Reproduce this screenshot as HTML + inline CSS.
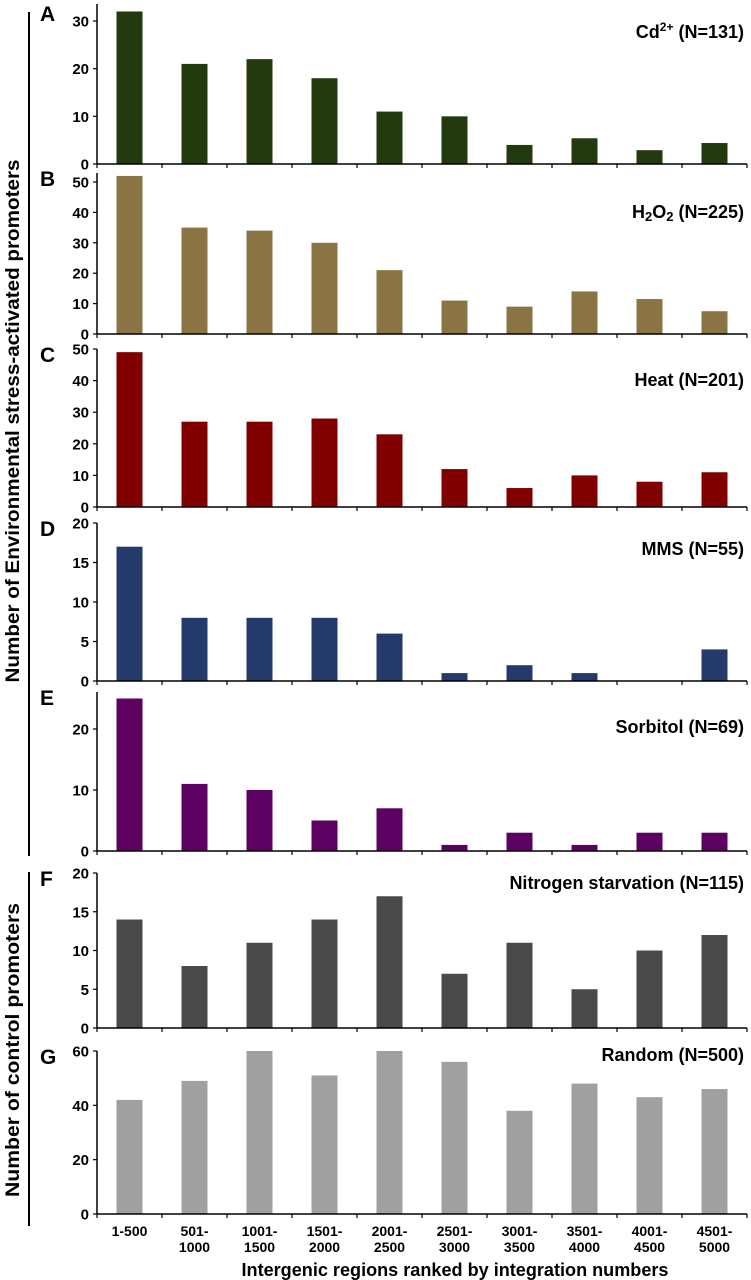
<!DOCTYPE html>
<html><head><meta charset="utf-8"><style>
html,body{margin:0;padding:0;background:#fff}
svg{display:block;font-family:"Liberation Sans",Arial,sans-serif;font-weight:bold}
</style></head><body>
<svg id="chart" width="751" height="1280" viewBox="0 0 751 1280" xmlns="http://www.w3.org/2000/svg">
<line x1="29" y1="12" x2="29" y2="856" stroke="#000" stroke-width="2"/>
<line x1="29" y1="872" x2="29" y2="1226" stroke="#000" stroke-width="2"/>
<text transform="translate(19,421) rotate(-90)" text-anchor="middle" font-size="19" textLength="523" lengthAdjust="spacingAndGlyphs">Number of Environmental stress-activated promoters</text>
<text transform="translate(19,1050) rotate(-90)" text-anchor="middle" font-size="19" textLength="294" lengthAdjust="spacingAndGlyphs">Number of control promoters</text>
<text x="455" y="1276" text-anchor="middle" font-size="18" textLength="427" lengthAdjust="spacingAndGlyphs">Intergenic regions ranked by integration numbers</text>
<g id="panels"></g>
<g id="xlabels"></g>
</svg>
<script>
const categories = ["1-500","501-1000","1001-1500","1501-2000","2001-2500","2501-3000","3001-3500","3501-4000","4001-4500","4501-5000"];
const catLine1 = ["1-500","501-","1001-","1501-","2001-","2501-","3001-","3501-","4001-","4501-"];
const catLine2 = ["","1000","1500","2000","2500","3000","3500","4000","4500","5000"];
const cdValues = [32,21,22,18,11,10,4,5.4,2.9,4.4];
const h2o2Values = [52,35,34,30,21,11,9,14,11.5,7.5];
const heatValues = [49,27,27,28,23,12,6,10,8,11];
const mmsValues = [17,8,8,8,6,1,2,1,0,4];
const sorbitolValues = [25,11,10,5,7,1,3,1,3,3];
const nitrogenValues = [14,8,11,14,17,7,11,5,10,12];
const randomValues = [42,49,60,51,60,56,38,48,43,46];
const cdTicks = [0,10,20,30];
const h2o2Ticks = [0,10,20,30,40,50];
const heatTicks = [0,10,20,30,40,50];
const mmsTicks = [0,5,10,15,20];
const sorbitolTicks = [0,10,20];
const nitrogenTicks = [0,5,10,15,20];
const randomTicks = [0,20,40,60];

const NS = "http://www.w3.org/2000/svg";
const X0 = 97, X1 = 747, BW = 26;
const step = (X1 - X0) / categories.length;
function xCenter(i){ return X0 + step * (i + 0.5); }

const panels = [
 {id:"a", letter:"A", title:"Cd<tspan dy='-7' font-size='12'>2+</tspan><tspan dy='7'> (N=131)</tspan>", vals:cdValues, ticks:cdTicks, y0:164, refV:30, refY:21, top:4, color:"#233a0f", ty:38},
 {id:"b", letter:"B", title:"H<tspan font-size='13' dy='3'>2</tspan><tspan dy='-3'>O</tspan><tspan font-size='13' dy='3'>2</tspan><tspan dy='-3'> (N=225)</tspan>", vals:h2o2Values, ticks:h2o2Ticks, y0:334, refV:50, refY:182, top:173, color:"#8b7443", ty:218},
 {id:"c", letter:"C", title:"Heat (N=201)", vals:heatValues, ticks:heatTicks, y0:507, refV:50, refY:349, top:349, color:"#800000", ty:386},
 {id:"d", letter:"D", title:"MMS (N=55)", vals:mmsValues, ticks:mmsTicks, y0:681, refV:20, refY:523, top:523, color:"#233a6b", ty:555},
 {id:"e", letter:"E", title:"Sorbitol (N=69)", vals:sorbitolValues, ticks:sorbitolTicks, y0:851, refV:20, refY:729, top:692, color:"#5c0062", ty:733},
 {id:"f", letter:"F", title:"Nitrogen starvation (N=115)", vals:nitrogenValues, ticks:nitrogenTicks, y0:1028, refV:20, refY:873, top:873, color:"#4a4a4a", ty:889},
 {id:"g", letter:"G", title:"Random (N=500)", vals:randomValues, ticks:randomTicks, y0:1214, refV:60, refY:1051, top:1051, color:"#a0a0a0", ty:1061}
];
const root = document.getElementById("panels");
function mk(tag, attrs, parent){ const e = document.createElementNS(NS, tag); for (const k in attrs) e.setAttribute(k, attrs[k]); parent.appendChild(e); return e; }

panels.forEach(p => {
  const g = mk("g", {}, root);
  
  
  const scale = (p.y0 - p.refY) / p.refV;
  const yOf = v => p.y0 - v * scale;
  p.vals.forEach((v, i) => {
    const h = v * scale;
    const r = mk("rect", {x: xCenter(i) - BW/2, y: yOf(v), width: BW, height: h, fill: p.color}, g);
    
    
  });
  const ya = mk("line", {x1:X0, y1:p.top, x2:X0, y2:p.y0, stroke:"#000", "stroke-width":1.5}, g);
  
  
  const xa = mk("line", {x1:X0, y1:p.y0, x2:X1, y2:p.y0, stroke:"#000", "stroke-width":1.5}, g);
  
  
  for (let i = 0; i <= categories.length; i++) {
    const x = X0 + step * i;
    const t = mk("line", {x1:x, y1:p.y0, x2:x, y2:p.y0 + 4, stroke:"#000", "stroke-width":1.2}, g);
    
    
  }
  p.ticks.forEach(v => {
    const y = yOf(v);
    const t = mk("line", {x1:X0 - 4, y1:y, x2:X0, y2:y, stroke:"#000", "stroke-width":1.2}, g);
    
    
    const l = mk("text", {x:X0 - 8, y:y + 5.5, "text-anchor":"end", "font-size":15}, g);
    l.textContent = v;
    
    
  });
  const L = mk("text", {x:40, y:p.top + 17 - (p.id==="a"?0:4), "font-size":21}, g);
  L.textContent = p.letter;
  
  
  const T = mk("text", {x:744, y:p.ty, "text-anchor":"end", "font-size":18}, g);
  T.innerHTML = p.title;
  
  
});

const xl = document.getElementById("xlabels");
categories.forEach((c, i) => {
  const t1 = mk("text", {x:xCenter(i), y:1236, "text-anchor":"middle", "font-size":14}, xl);
  t1.textContent = catLine1[i];
  
  
  if (catLine2[i]) {
    const t2 = mk("text", {x:xCenter(i), y:1252, "text-anchor":"middle", "font-size":14}, xl);
    t2.textContent = catLine2[i];
    
    
  }
});
</script>
</body></html>
